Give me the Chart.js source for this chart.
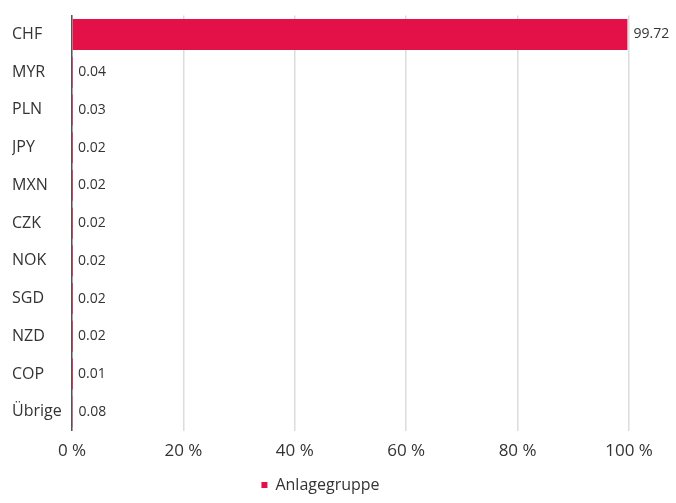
<!DOCTYPE html>
<html>
<head>
<meta charset="utf-8">
<script src="https://cdn.jsdelivr.net/npm/chart.js@4"></script>
<style>
  html, body { margin: 0; padding: 0; background: #fff; }
  #wrap { width: 676px; height: 503px; }
</style>
</head>
<body>
<div id="wrap"><canvas id="chart"></canvas></div>
<script>
const categories = ['CHF', 'MYR', 'PLN', 'JPY', 'MXN', 'CZK', 'NOK', 'SGD', 'NZD', 'COP', 'Übrige'];
const values = [99.72, 0.04, 0.03, 0.02, 0.02, 0.02, 0.02, 0.02, 0.02, 0.01, 0.08];
const xTicks = [0, 20, 40, 60, 80, 100];
const seriesName = 'Anlagegruppe';

const fontFamily = '"Open Sans", "Noto Sans", sans-serif';

const valueLabels = {
  id: 'valueLabels',
  afterDatasetsDraw(chart) {
    const ctx = chart.ctx;
    const meta = chart.getDatasetMeta(0);
    ctx.save();
    ctx.font = '14px ' + fontFamily;
    ctx.fillStyle = '#333';
    ctx.textBaseline = 'middle';
    ctx.textAlign = 'left';
    meta.data.forEach((bar, i) => {
      ctx.fillText(values[i].toFixed(2), bar.x + 6, bar.y);
    });
    ctx.restore();
  }
};

new Chart(document.getElementById('chart'), {
  type: 'bar',
  data: {
    labels: categories,
    datasets: [{
      label: seriesName,
      data: values,
      backgroundColor: '#e31148',
      borderWidth: 0,
      barPercentage: 0.82,
      categoryPercentage: 1.0,
    }],
  },
  options: {
    indexAxis: 'y',
    responsive: true,
    maintainAspectRatio: false,
    animation: false,
    layout: { padding: { top: 0, right: 47, left: 12, bottom: 0 } },
    plugins: {
      legend: {
        position: 'bottom',
        labels: {
          boxWidth: 6,
          boxHeight: 6,
          color: '#333',
          font: { size: 16, family: fontFamily },
          padding: 6,
        },
      },
      tooltip: { enabled: false },
    },
    scales: {
      x: {
        min: 0,
        max: 100,
        afterBuildTicks(axis) {
          axis.ticks = xTicks.map((v) => ({ value: v }));
        },
        ticks: {
          color: '#333',
          font: { size: 17, family: fontFamily },
          padding: 10,
          callback: (v) => v + ' %',
        },
        grid: { color: '#dcdcdc', drawTicks: false, lineWidth: 1.5 },
        border: { display: false },
      },
      y: {
        afterFit(axis) { axis.width = 60; },
        ticks: {
          color: '#333',
          font: { size: 16, family: fontFamily },
          crossAlign: 'far',
          padding: 6,
        },
        grid: { display: false, drawTicks: false },
        border: { display: true, color: '#555', width: 1.5 },
      },
    },
  },
  plugins: [valueLabels],
});
</script>
</body>
</html>
